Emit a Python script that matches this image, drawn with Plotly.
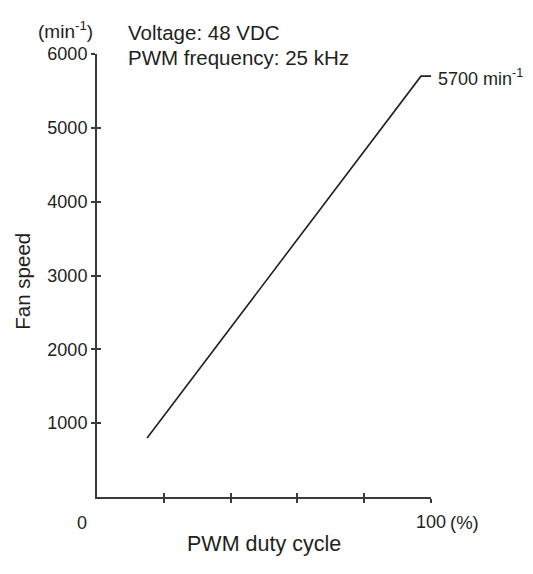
import plotly.graph_objects as go

# data
duty_cycle = [15, 97, 100]          # PWM duty cycle (%)
fan_speed = [800, 5700, 5700]       # min^-1
x_tickvals = [20, 40, 60, 80, 100]
x_labelvals = [100]
x_labeltext = ["100"]
y_tickvals = [1000, 2000, 3000, 4000, 5000, 6000]
y_ticktext = ["1000", "2000", "3000", "4000", "5000", "6000"]

NUM = "Liberation Sans Narrow, Liberation Sans, Arial, sans-serif"
SANS = "Liberation Sans, Arial, sans-serif"
INK = "#231f20"
AX = "#3a3a3a"

fig = go.Figure()
fig.add_trace(go.Scatter(x=duty_cycle, y=fan_speed, mode="lines",
                         line=dict(color=INK, width=1.6), showlegend=False,
                         hoverinfo="skip"))
# dummy traces for overlay axes
fig.add_trace(go.Scatter(x=[None], y=[None], xaxis="x2", yaxis="y2",
                         showlegend=False, hoverinfo="skip"))
fig.add_trace(go.Scatter(x=[None], y=[None], xaxis="x3", yaxis="y",
                         showlegend=False, hoverinfo="skip"))

common_x = dict(range=[0, 100], tickmode="array", showgrid=False,
                zeroline=False, fixedrange=True)
common_y = dict(range=[0, 6000], tickmode="array", tickvals=y_tickvals,
                showgrid=False, zeroline=False, fixedrange=True)

W, H = 525, 566   # page body adds an 8px offset
fig.update_layout(
    width=W, height=H,
    margin=dict(l=89, r=W - 89 - 334, t=46, b=H - 46 - 443.5),
    paper_bgcolor="white", plot_bgcolor="white",
    xaxis=dict(**common_x, tickvals=x_tickvals, ticks="outside", ticklen=4,
               tickwidth=1.5, tickcolor=AX, showline=True, linecolor=AX,
               linewidth=2, showticklabels=False),
    yaxis=dict(**common_y, ticktext=y_ticktext, ticks="outside", ticklen=4,
               tickwidth=1.5, tickcolor=AX, showline=True, linecolor=AX,
               linewidth=2,
               tickfont=dict(family=NUM, size=18, color=INK)),
    xaxis2=dict(**common_x, tickvals=x_tickvals, overlaying="x", anchor="y",
                side="bottom", ticks="inside", ticklen=4, tickwidth=1.5,
                tickcolor=AX, showline=False, showticklabels=False),
    yaxis2=dict(**common_y, overlaying="y", anchor="x", side="left",
                ticks="inside", ticklen=4, tickwidth=1.5, tickcolor=AX,
                showline=False, showticklabels=False),
    xaxis3=dict(**common_x, tickvals=x_labelvals, ticktext=x_labeltext,
                overlaying="x", anchor="y", side="bottom", ticks="",
                showline=False, ticklabelstandoff=12,
                tickfont=dict(family=NUM, size=18, color=INK)),
)

ann = [
    dict(text="Voltage: 48 VDC", x=0.086, y=1.0496, xanchor="left",
         yanchor="middle", font=dict(family=SANS, size=20.5, color=INK)),
    dict(text="PWM frequency: 25 kHz", x=0.086, y=0.991, xanchor="left",
         yanchor="middle", font=dict(family=SANS, size=20.5, color=INK)),
    dict(text="(min<sup>-1</sup>)", x=-0.0958, y=1.054, xanchor="center",
         yanchor="middle", font=dict(family=SANS, size=19, color=INK)),
    dict(text="0", x=-0.046, y=-0.058, xanchor="center", yanchor="middle",
         font=dict(family=NUM, size=18, color=INK)),
    dict(text="(%)", x=1.052, y=-0.058, xanchor="left", yanchor="middle",
         font=dict(family=SANS, size=18.5, color=INK)),
    dict(text="PWM duty cycle", x=0.5, y=-0.107, xanchor="center",
         yanchor="middle", font=dict(family=SANS, size=21.5, color=INK)),
    dict(text="Fan speed", x=-0.222, y=0.488, xanchor="center",
         yanchor="middle", textangle=-90,
         font=dict(family=SANS, size=20.5, color=INK)),
]
for a in ann:
    fig.add_annotation(xref="paper", yref="paper", showarrow=False, **a)

fig.add_annotation(xref="x", yref="y", x=duty_cycle[-1], y=fan_speed[-1],
                   text="5700 min<sup>-1</sup>", showarrow=False,
                   xanchor="left", yanchor="middle", xshift=5, yshift=-1,
                   font=dict(family=NUM, size=18, color=INK))

fig.write_html("out.html")
